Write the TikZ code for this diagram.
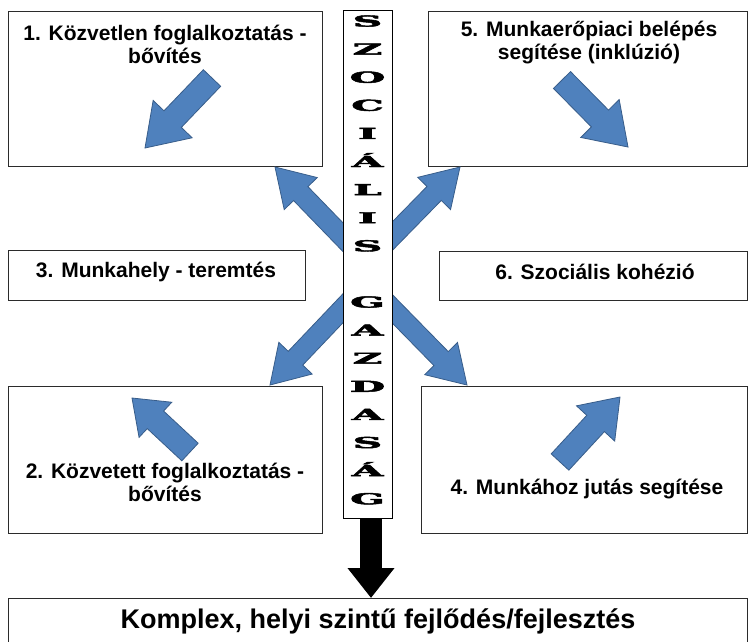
\documentclass[tikz,border=0pt]{standalone}
\usepackage{fontspec}
\setmainfont{Liberation Sans}
\newfontfamily\letterfont{DejaVuSerif-Bold.ttf}[FakeBold=3]
\usetikzlibrary{calc}
\usetikzlibrary{arrows.meta}

\definecolor{arrowfill}{HTML}{4F81BD}
\definecolor{arrowline}{HTML}{385D8A}
\definecolor{boxline}{HTML}{2B2B2B}

\tikzset{
  box/.style={draw=boxline, line width=1.2pt, fill=white, anchor=north west, inner sep=0pt},
  boxtext/.style={font=\bfseries\fontsize{21}{23.5}\selectfont, align=center, inner sep=0pt, anchor=north},
  arrowblue/.style={fill=arrowfill, draw=arrowline, line width=0.8pt, line join=miter},
  colletter/.style={font=\letterfont\fontsize{15}{15}\selectfont, inner sep=0pt, anchor=base},
  blackarrow/.style={line width=22pt, -{Triangle[width=45pt,length=30pt]}}
}

% block arrow: tail, tip, shaft half width, head half width, head length
\newcommand{\blockarrow}[5]{%
  \coordinate (#1-b) at ($(#2)!#5!(#1)$);
  \filldraw[arrowblue]
    ($(#1)!#3!90:(#2)$) -- ($(#1-b)!#3!90:(#2)$) -- ($(#1-b)!#4!90:(#2)$) -- (#2)
    -- ($(#1-b)!#4!-90:(#2)$) -- ($(#1-b)!#3!-90:(#2)$) -- ($(#1)!#3!-90:(#2)$) -- cycle;
}

\begin{document}
\begin{tikzpicture}[x=1pt, y=-1pt]
\useasboundingbox (0,0) rectangle (749,641);

% boxes
\node[box, minimum width=314pt, minimum height=155pt] (b1) at (8,11) {};
\node[box, minimum width=319pt, minimum height=155pt] (b5) at (428,11) {};
\node[box, minimum width=297pt, minimum height=50pt] (b3) at (8,250) {};
\node[box, minimum width=308pt, minimum height=49pt] (b6) at (439,251) {};
\node[box, minimum width=314pt, minimum height=147pt] (b2) at (8,386) {};
\node[box, minimum width=326pt, minimum height=147pt] (b4) at (421,386) {};
\node[box, minimum width=739pt, minimum height=50pt] (kom) at (8,598) {};

% box texts
\node[boxtext] (t1) at (165,24.5) {1. Közvetlen foglalkoztatás -\\bővítés};
\node[boxtext] (t5) at (589,20.5) {5. Munkaerőpiaci belépés\\segítése (inklúzió)};
\node[boxtext, anchor=base] (t3) at (156,277) {3. Munkahely - teremtés};
\node[boxtext, anchor=base] (t6) at (595,279) {6. Szociális kohézió};
\node[boxtext] (t2) at (165,462.5) {2. Közvetett foglalkoztatás -\\bővítés};
\node[boxtext, anchor=base] (t4) at (587,494) {4. Munkához jutás segítése};
\node[boxtext, anchor=base, font=\bfseries\fontsize{27}{27}\selectfont] (tk) at (378,628) {Komplex, helyi szintű fejlődés/fejlesztés};

% big arrows out of the column
\coordinate (ult) at (367,262); \coordinate (ulh) at (275,167);
\coordinate (urt) at (367,262); \coordinate (urh) at (460,167);
\coordinate (dlt) at (367,283); \coordinate (dlh) at (270,385);
\coordinate (drt) at (367,283); \coordinate (drh) at (467,385);
\blockarrow{ult}{ulh}{10pt}{23pt}{37pt}
\blockarrow{urt}{urh}{10pt}{23pt}{37pt}
\blockarrow{dlt}{dlh}{10pt}{23pt}{37pt}
\blockarrow{drt}{drh}{10pt}{23pt}{37pt}

% column
\node[box, draw=black, line width=1pt, minimum width=49pt, minimum height=508pt] (col) at (343,10) {};
\foreach \ch [count=\i] in {S,Z,O,C,I,Á,L,I,S,{},G,A,Z,D,A,S,Á,G}
  \node[colletter] (c\i) at (367.5,{26.5+28.1*(\i-1)}) {\scalebox{2.7}[1]{\ch}};

% small arrows in the boxes
\coordinate (s1t) at (212,78);  \coordinate (s1h) at (145,148);
\coordinate (s5t) at (562,80);  \coordinate (s5h) at (628,147);
\coordinate (s2t) at (190,452); \coordinate (s2h) at (132,398);
\coordinate (s4t) at (560,462); \coordinate (s4h) at (620,397);
\blockarrow{s1t}{s1h}{12pt}{27pt}{40pt}
\blockarrow{s5t}{s5h}{12pt}{27pt}{40pt}
\blockarrow{s2t}{s2h}{12pt}{24pt}{32pt}
\blockarrow{s4t}{s4h}{12pt}{26pt}{36pt}

% down to the bottom box
\draw[blackarrow] ([xshift=3pt]col.south) -- ([xshift=3pt]col.south |- kom.north);

\end{tikzpicture}
\end{document}
